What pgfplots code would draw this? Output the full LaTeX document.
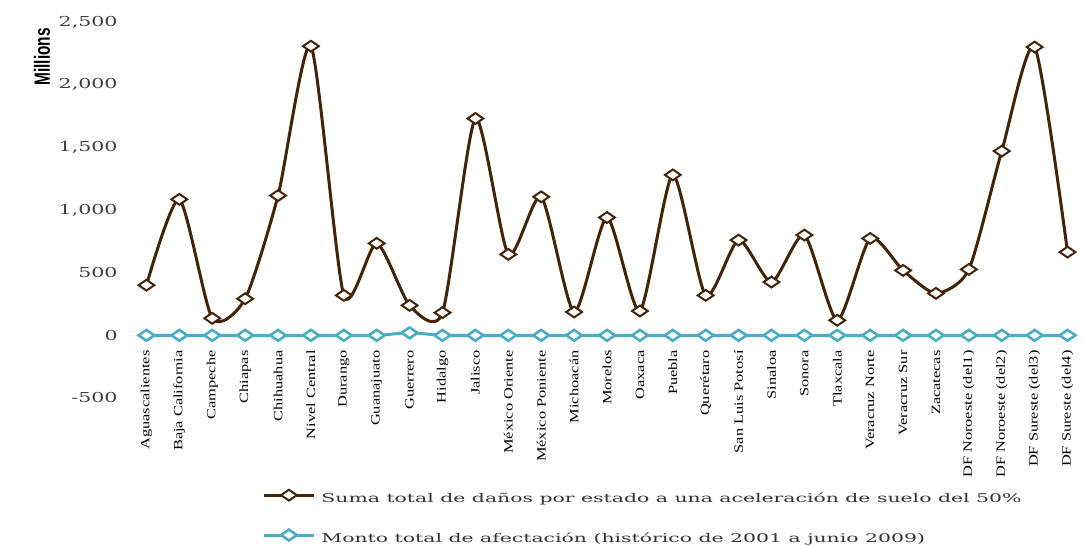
\documentclass[border=0pt]{standalone}
\usepackage{fontspec}
\usepackage{pgfplots}
\pgfplotsset{compat=1.18}
\newfontfamily\tickfont{DejaVu Serif}[FakeStretch=1.5]
\newfontfamily\xlabfont{Liberation Serif}[FakeStretch=1.3]
\newfontfamily\legfont{DejaVu Serif}[FakeStretch=1.7]
\newfontfamily\ylabfont{Liberation Sans}[FakeStretch=0.7]
\definecolor{brownc}{RGB}{68,36,8}
\definecolor{bluec}{RGB}{75,172,198}
\pgfplotstableread{
x dano monto
0 400 0
1 1085 0
2 136 0
3 292 0
4 1115 0
5 2307 0
6 319 0
7 734 0
8 239 20
9 181 0
10 1730 0
11 646 0
12 1105 0
13 186 0
14 940 0
15 194 0
16 1280 0
17 319 0
18 760 0
19 425 0
20 800 0
21 120 0
22 773 0
23 518 0
24 335 0
25 526 0
26 1470 0
27 2300 0
28 664 0
}\datatable
\begin{document}
\begin{tikzpicture}
\path[use as bounding box] (-65pt,-74pt) rectangle (477pt,199pt);
\begin{axis}[
  at={(0,0)}, anchor=south west,
  scale only axis, width=477pt, height=188pt,
  xmin=-0.5, xmax=28.5, ymin=-500, ymax=2500,
  axis line style={draw=none},
  major tick length=0pt,
  ytick={-500,0,...,2500},
  xtick={0,...,28},
  xticklabels={Aguascalientes,Baja California,Campeche,Chiapas,Chihuahua,Nivel Central,Durango,Guanajuato,Guerrero,Hidalgo,Jalisco,México Oriente,México Poniente,Michoacán,Morelos,Oaxaca,Puebla,Querétaro,San Luis Potosí,Sinaloa,Sonora,Tlaxcala,Veracruz Norte,Veracruz Sur,Zacatecas,DF Noroeste (del1),DF Noroeste (del2),DF Sureste (del3),DF Sureste (del4)},
  /pgf/number format/assume math mode=true,
  /pgf/number format/1000 sep={,},
  yticklabel style={font=\tickfont\fontsize{6.86}{8}\selectfont, inner sep=0pt, anchor=east, xshift=-6pt, text=black!75},
  xticklabel style={font=\xlabfont\fontsize{6.3}{7}\selectfont, rotate=90, anchor=east, inner sep=0pt},
  xticklabel shift=-24pt,
  ylabel={Millions},
  ylabel style={at={(rel axis cs:-0.0922,0.907)}, anchor=center, font=\ylabfont\bfseries\fontsize{11}{12}\selectfont},
  legend style={at={(rel axis cs:0.1384,-0.243)}, anchor=north west, draw=none, fill=none, inner sep=0pt, row sep=12pt,
    font=\legfont\fontsize{6}{7}\selectfont, text=black!80,
    nodes={inner sep=0pt},
    /tikz/every odd column/.append style={column sep=3pt}},
  legend cell align=left,
  legend image code/.code={\draw[mark repeat=2,mark phase=2,#1] plot coordinates {(0pt,2.1pt) (12.5pt,2.1pt) (25pt,2.1pt)};},
]
\addplot[color=brownc, line width=1.5pt, smooth, tension=0.4, mark=diamond*, mark size=3pt,
  mark options={fill=white, draw=brownc, line width=1pt, solid, xscale=1.75, yscale=0.9}]
  table[x=x, y=dano] {\datatable};
\addlegendentry{Suma total de daños por estado a una aceleración de suelo del 50\%}
\addplot[color=bluec, line width=1.5pt, smooth, tension=0.4, mark=diamond*, mark size=3pt,
  mark options={fill=white, draw=bluec, line width=1.3pt, solid, xscale=1.75, yscale=0.9}]
  table[x=x, y=monto] {\datatable};
\addlegendentry{Monto total de afectación (histórico de 2001 a junio 2009)}
\end{axis}
\end{tikzpicture}
\end{document}
